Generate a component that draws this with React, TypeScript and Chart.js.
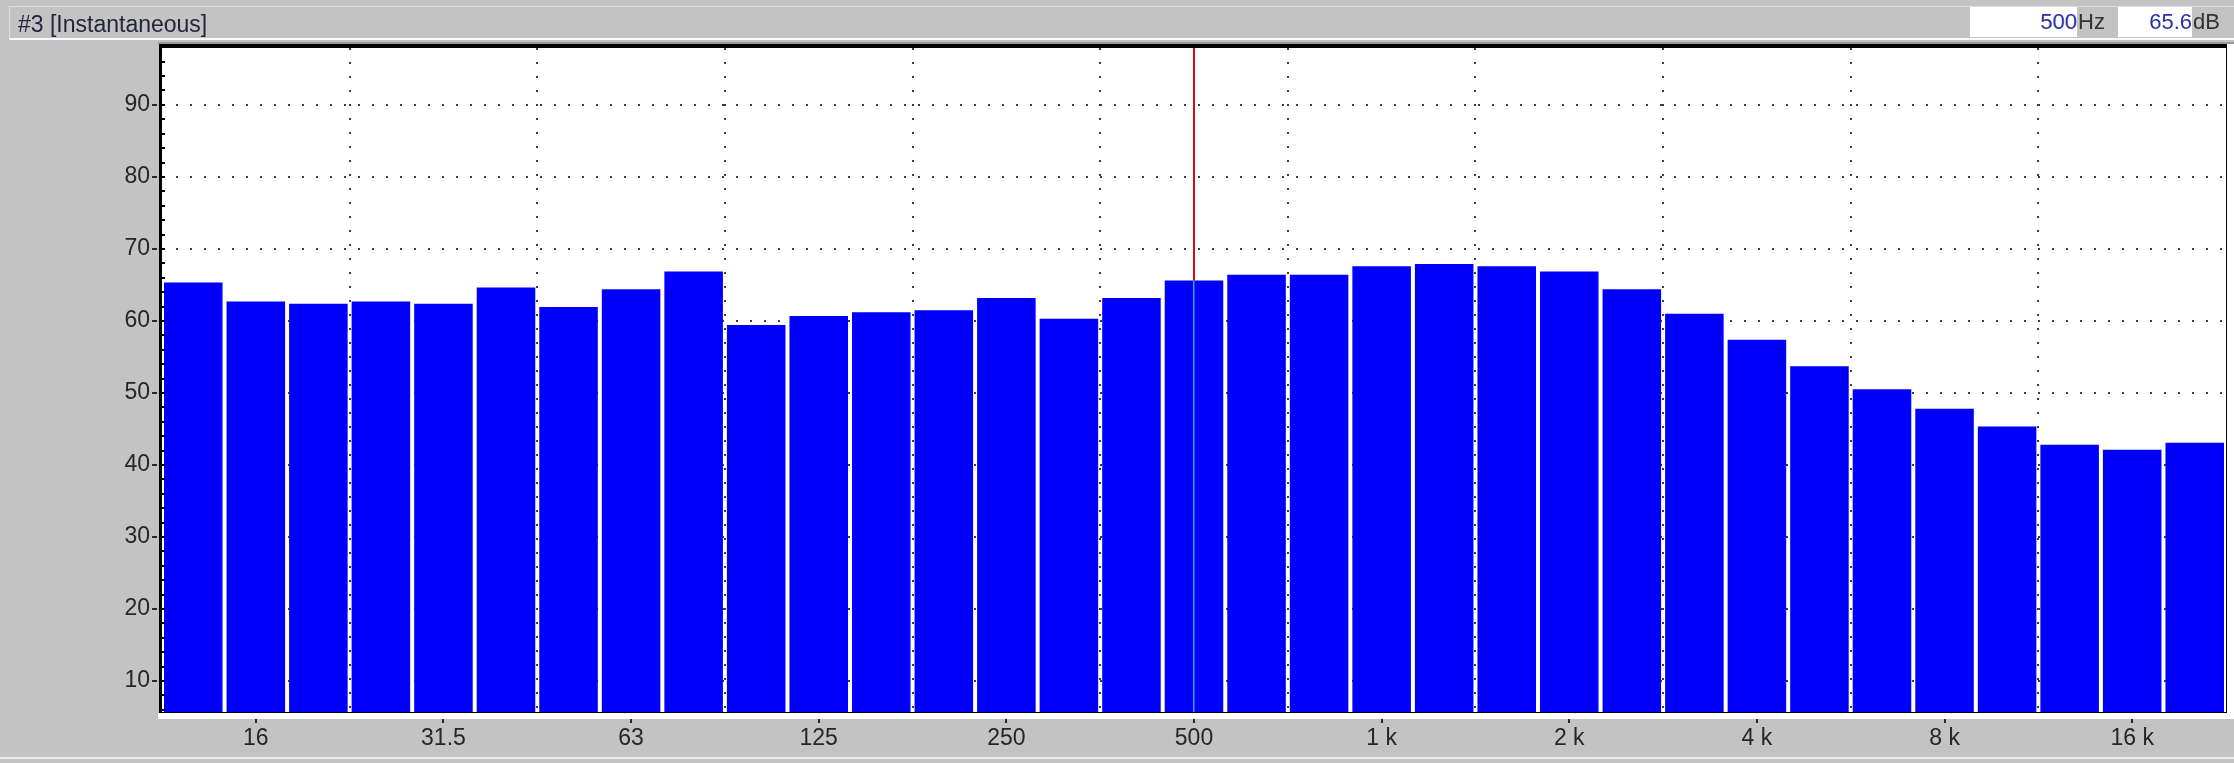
import React, { useEffect, useRef } from "react";
import { Chart, registerables } from "chart.js";

Chart.register(...registerables);

// 1/3-octave band centre frequencies (Hz)
const bandLabels = [
  "12.5", "16", "20", "25", "31.5", "40", "50", "63", "80", "100", "125",
  "160", "200", "250", "315", "400", "500", "630", "800", "1 k", "1.25 k",
  "1.6 k", "2 k", "2.5 k", "3.15 k", "4 k", "5 k", "6.3 k", "8 k", "10 k",
  "12.5 k", "16 k", "20 k",
];

// Instantaneous level per band (dB)
const levels = [
  65.35, 62.7, 62.4, 62.7, 62.4, 64.65, 61.95, 64.4, 66.85, 59.45, 60.7,
  61.2, 61.5, 63.2, 60.3, 63.2, 65.6, 66.4, 66.4, 67.6, 67.9,
  67.6, 66.85, 64.4, 61.0, 57.4, 53.7, 50.5, 47.8, 45.35,
  42.8, 42.1, 43.1,
];

// Labels shown on the frequency axis
const shownTickLabels = ["16", "31.5", "63", "125", "250", "500", "1 k", "2 k", "4 k", "8 k", "16 k"];

// dB axis
const yTicks = [10, 20, 30, 40, 50, 60, 70, 80, 90];
const yMin = 5.7;
const yMax = 97.9;

// Cursor readout
const titleText = "#3 [Instantaneous]";
const cursorBand = "500";
const cursorFreqText = "500";
const cursorFreqUnit = "Hz";
const cursorLevelText = "65.6";
const cursorLevelUnit = "dB";

const FONT = "'Liberation Sans', Arial, sans-serif";

const decorPlugin = {
  id: "decor",
  beforeDraw(chart: any) {
    const { ctx, chartArea: a } = chart;
    ctx.save();
    ctx.fillStyle = "#ffffff";
    ctx.fillRect(a.left, a.top, a.right - a.left, a.bottom - a.top);
    ctx.restore();
  },
  afterDatasetsDraw(chart: any) {
    const { ctx, chartArea: a, scales } = chart;
    const idx = bandLabels.indexOf(cursorBand);
    const x = Math.round(scales.x.getPixelForValue(idx));
    const yv = scales.y.getPixelForValue(levels[idx]);
    ctx.save();
    ctx.fillStyle = "#cc1010";
    ctx.fillRect(x - 1, a.top, 2, yv - a.top);
    ctx.fillStyle = "#2aa6e8";
    ctx.fillRect(x - 1, yv, 1.5, a.bottom - yv);
    ctx.restore();
  },
  afterDraw(chart: any) {
    const { ctx, chartArea: a, scales, width } = chart;
    ctx.save();
    // grey line above frame
    ctx.fillStyle = "#9a9a9a";
    ctx.fillRect(a.left - 4, a.top - 6, width - (a.left - 4), 2);
    // white highlight strips (bottom, right)
    ctx.fillStyle = "#ffffff";
    ctx.fillRect(a.left - 4, a.bottom + 1, width - (a.left - 4), 6);
    ctx.fillRect(a.right + 1, a.top - 4, width - a.right - 1, a.bottom - a.top + 11);
    // black frame
    ctx.fillStyle = "#000000";
    ctx.fillRect(a.left - 3, a.top - 4, 3, a.bottom - a.top + 5);
    ctx.fillRect(a.left - 3, a.top - 4, a.right - a.left + 4, 4);
    ctx.fillRect(a.right, a.top - 4, 1, a.bottom - a.top + 5);
    ctx.fillRect(a.left - 3, a.bottom, a.right - a.left + 4, 1);
    // minor ticks inside left border
    for (let v = 6; v <= 96; v += 2) {
      const y = Math.round(scales.y.getPixelForValue(v));
      ctx.fillRect(a.left, y - 1, 3, 2);
    }
    // major ticks outside left border
    ctx.fillStyle = "#2a2a2a";
    yTicks.forEach((v) => {
      const y = Math.round(scales.y.getPixelForValue(v));
      ctx.fillRect(a.left - 10, y - 1, 5, 2);
    });
    // x ticks under the plot
    bandLabels.forEach((lbl, i) => {
      if (!shownTickLabels.includes(lbl)) return;
      const x = Math.round(scales.x.getPixelForValue(i));
      ctx.fillRect(x - 1, a.bottom + 7, 2, 4);
    });
    ctx.restore();
  },
};

export default function App() {
  const canvasRef = useRef<HTMLCanvasElement | null>(null);

  useEffect(() => {
    const canvas = canvasRef.current;
    if (!canvas) return;
    const chart = new Chart(canvas, {
      type: "bar",
      data: {
        labels: bandLabels,
        datasets: [
          {
            data: levels,
            backgroundColor: "#0000fa",
            borderWidth: 0,
            barPercentage: 0.936,
            categoryPercentage: 1,
          },
        ],
      },
      options: {
        animation: false,
        responsive: false,
        maintainAspectRatio: false,
        layout: { padding: { left: 0, top: 48, right: 8, bottom: 0 } },
        plugins: { legend: { display: false }, tooltip: { enabled: false } },
        scales: {
          x: {
            type: "category",
            offset: true,
            grid: {
              offset: true,
              drawTicks: false,
              lineWidth: 2,
              color: (c: any) =>
                c.index > 0 && c.index < bandLabels.length && c.index % 3 === 0
                  ? "#3c3c3c"
                  : "rgba(0,0,0,0)",
            },
            border: { display: false, dash: [2, 12] },
            ticks: {
              autoSkip: false,
              maxRotation: 0,
              minRotation: 0,
              padding: 13,
              color: "#262626",
              font: { family: FONT, size: 23 },
              callback: (_v: any, i: number) =>
                shownTickLabels.includes(bandLabels[i]) ? bandLabels[i] : "",
            },
            afterFit: (s: any) => {
              s.height = 51;
            },
          },
          y: {
            min: yMin,
            max: yMax,
            grid: { drawTicks: false, lineWidth: 2, color: "#3c3c3c" },
            border: { display: false, dash: [2, 12] },
            ticks: {
              padding: 12,
              color: "#262626",
              font: { family: FONT, size: 23 },
            },
            afterBuildTicks: (s: any) => {
              s.ticks = yTicks.map((v) => ({ value: v }));
            },
            afterFit: (s: any) => {
              s.width = 162;
            },
          },
        },
      },
      plugins: [decorPlugin],
    } as any);
    return () => chart.destroy();
  }, []);

  const txt: React.CSSProperties = {
    position: "absolute",
    fontFamily: FONT,
    fontSize: 22,
    lineHeight: "30px",
    whiteSpace: "nowrap",
  };

  return (
    <div
      style={{
        position: "fixed",
        left: 0,
        top: 0,
        width: 2234,
        height: 763,
        background: "#c3c3c3",
        overflow: "hidden",
      }}
    >
      <div
        style={{
          position: "absolute",
          left: 9,
          top: 6,
          width: 2225,
          height: 31,
          borderTop: "1px solid #dedede",
          borderLeft: "1px solid #dedede",
          borderBottom: "2px solid #fafafa",
          boxSizing: "content-box",
        }}
      />
      <div
        style={{
          position: "absolute",
          left: 0,
          top: 757,
          width: 2234,
          height: 2,
          background: "#ececec",
        }}
      />
      <canvas
        ref={canvasRef}
        width={2234}
        height={763}
        style={{ position: "absolute", left: 0, top: 0, display: "block" }}
      />
      <div style={{ ...txt, left: 18, top: 9, fontSize: 23, color: "#24243a" }}>{titleText}</div>
      <div
        style={{
          ...txt,
          left: 1970,
          top: 7,
          width: 107,
          height: 30,
          background: "#ffffff",
          textAlign: "right",
          color: "#2e2ea8",
        }}
      >
        {cursorFreqText}
      </div>
      <div style={{ ...txt, left: 2078, top: 7, color: "#333333" }}>{cursorFreqUnit}</div>
      <div
        style={{
          ...txt,
          left: 2118,
          top: 7,
          width: 74,
          height: 30,
          background: "#ffffff",
          textAlign: "right",
          color: "#2e2ea8",
        }}
      >
        {cursorLevelText}
      </div>
      <div style={{ ...txt, left: 2193, top: 7, color: "#333333" }}>{cursorLevelUnit}</div>
    </div>
  );
}
